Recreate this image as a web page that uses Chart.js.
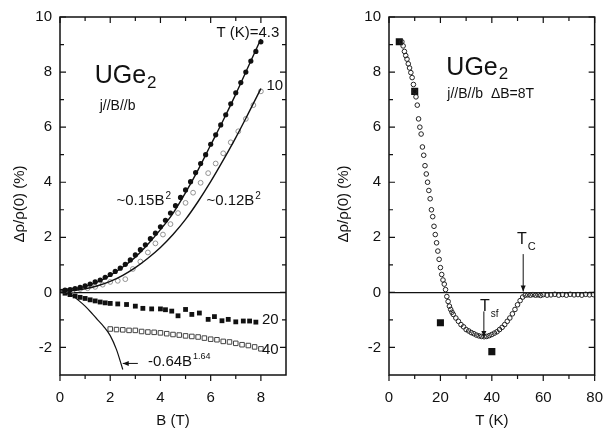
<!DOCTYPE html>
<html>
<head>
<meta charset="utf-8">
<script src="https://cdn.jsdelivr.net/npm/chart.js@4.4.1/dist/chart.umd.min.js"></script>
<style>
  html, body { margin: 0; padding: 0; background: #fff; }
  #wrap { position: relative; width: 609px; height: 434px; }
  .panel { position: absolute; top: 0; height: 434px; }
</style>
</head>
<body>
<div id="wrap">
  <div class="panel" style="left:0;width:300px"><canvas id="fieldChart"></canvas></div>
  <div class="panel" style="left:300px;width:309px"><canvas id="tempChart"></canvas></div>
</div>
<script>
// tick values
const yMajor = [-2, 0, 2, 4, 6, 8, 10];
const yMinor = [-1, 1, 3, 5, 7, 9];
const fieldMajor = [0, 2, 4, 6, 8];
const fieldMinor = [1, 3, 5, 7];
const tempMajor = [0, 20, 40, 60, 80];
const tempMinor = [10, 30, 50, 70];

// left panel: magnetoresistance vs B at several T
const fieldB43 = [0.2, 0.4, 0.6, 0.8, 1.0, 1.2, 1.4, 1.6, 1.8, 2.0, 2.2, 2.4, 2.6, 2.8, 3.0, 3.2, 3.4, 3.6, 3.8, 4.0,
                  4.2, 4.4, 4.6, 4.8, 5.0, 5.2, 5.4, 5.6, 5.8, 6.0, 6.2, 6.4, 6.6, 6.8, 7.0, 7.2, 7.4, 7.6, 7.8, 8.0];
const rho43 = [0.08, 0.1, 0.14, 0.18, 0.24, 0.3, 0.38, 0.45, 0.55, 0.65, 0.76, 0.88, 1.02, 1.18, 1.36, 1.55, 1.73, 1.95, 2.15, 2.38,
               2.62, 2.88, 3.15, 3.45, 3.72, 4.02, 4.35, 4.68, 5.0, 5.38, 5.72, 6.08, 6.45, 6.85, 7.25, 7.62, 8.0, 8.4, 8.75, 9.1];

const fieldB10 = [0.2, 0.5, 0.8, 1.1, 1.4, 1.7, 2.0, 2.3, 2.6, 2.9, 3.2, 3.5, 3.8, 4.1, 4.4, 4.7, 5.0, 5.3, 5.6, 5.9,
                  6.2, 6.5, 6.8, 7.1, 7.4, 7.7, 8.0];
const rho10 = [0.05, 0.08, 0.12, 0.15, 0.2, 0.28, 0.38, 0.42, 0.48, 0.85, 1.12, 1.45, 1.78, 2.1, 2.48, 2.88, 3.25, 3.62, 3.98, 4.33,
               4.68, 5.05, 5.45, 5.85, 6.3, 6.8, 7.3];

const fieldB20 = [0.2, 0.4, 0.6, 0.8, 1.0, 1.2, 1.4, 1.6, 1.8, 2.0, 2.3, 2.65, 3.0, 3.3, 3.65, 4.0, 4.2, 4.45, 4.7, 5.0,
                  5.25, 5.55, 5.9, 6.15, 6.45, 6.7, 7.0, 7.3, 7.55, 7.8];
const rho20 = [-0.03, -0.08, -0.13, -0.18, -0.22, -0.27, -0.31, -0.35, -0.38, -0.4, -0.42, -0.44, -0.5, -0.58, -0.6, -0.6, -0.63, -0.68, -0.85, -0.62,
               -0.8, -0.75, -0.98, -0.88, -1.03, -0.98, -1.07, -1.04, -1.04, -1.08];

const fieldB40 = [2.0, 2.25, 2.5, 2.75, 3.0, 3.25, 3.5, 3.75, 4.0, 4.25, 4.5, 4.75, 5.0, 5.25, 5.5, 5.75, 6.0, 6.25, 6.5, 6.75,
                  7.0, 7.25, 7.5, 7.75, 8.0];
const rho40 = [-1.33, -1.35, -1.36, -1.38, -1.38, -1.42, -1.44, -1.45, -1.47, -1.5, -1.53, -1.55, -1.58, -1.6, -1.62, -1.66, -1.7, -1.72, -1.78, -1.8,
               -1.85, -1.9, -1.93, -1.98, -2.05];

// fitted curves
const fitB = [0, 0.5, 1.0, 1.5, 2.0, 2.5, 3.0, 3.5, 4.0, 4.5, 5.0, 5.5, 6.0, 6.5, 7.0, 7.5, 8.0];
const fit015 = [0.1, 0.13, 0.22, 0.38, 0.62, 0.92, 1.28, 1.75, 2.28, 2.87, 3.62, 4.45, 5.35, 6.25, 7.2, 8.2, 9.2];
const fit012 = [0.05, 0.07, 0.13, 0.24, 0.4, 0.62, 0.9, 1.24, 1.63, 2.1, 2.65, 3.3, 4.02, 4.8, 5.62, 6.5, 7.4];
const powB = [0, 0.25, 0.5, 0.75, 1.0, 1.25, 1.5, 1.75, 2.0, 2.25, 2.5];
const pow064 = [0, -0.04, -0.12, -0.3, -0.5, -0.74, -1.0, -1.25, -1.57, -2.08, -2.8];

// right panel: delta rho at 8 T vs temperature
const tempT = [5.0, 5.5, 6.0, 6.5, 7.0, 7.5, 8.0, 8.5, 9.0, 9.5, 10.0, 10.5, 11.0, 11.5, 12.0, 12.5, 13.0, 13.5, 14.0, 14.5,
               15.0, 15.5, 16.0, 16.5, 17.0, 17.5, 18.0, 18.5, 19.0, 19.5, 20.0, 20.5, 21.0, 21.5, 22.0, 22.5, 23.0, 23.5, 24.0, 24.5,
               25, 26, 27, 28, 29, 30, 31, 32, 33, 34, 35, 36, 37, 38, 39, 40, 41, 42, 43, 44,
               45, 46, 47, 48, 49, 50, 51, 52, 53, 54, 55, 56, 57, 58, 59, 60, 61.5, 63, 64.5, 66,
               67.5, 69, 70.5, 72, 73.5, 75, 76.5, 78, 79.5];
const rhoT = [9.1, 8.95, 8.75, 8.6, 8.47, 8.3, 8.15, 7.98, 7.8, 7.55, 7.3, 7.1, 6.8, 6.3, 6.0, 5.75, 5.28, 4.98, 4.6, 4.3,
              4.0, 3.7, 3.4, 3.0, 2.75, 2.4, 2.1, 1.8, 1.5, 1.2, 0.9, 0.65, 0.45, 0.3, 0.1, -0.15, -0.33, -0.5, -0.62, -0.72,
              -0.8, -0.93, -1.05, -1.17, -1.25, -1.35, -1.4, -1.46, -1.5, -1.55, -1.58, -1.6, -1.61, -1.6, -1.57, -1.53, -1.48, -1.43, -1.35, -1.27,
              -1.17, -1.05, -0.93, -0.78, -0.62, -0.45, -0.3, -0.17, -0.1, -0.09, -0.1, -0.08, -0.1, -0.09, -0.11, -0.08, -0.1, -0.09, -0.07, -0.1,
              -0.08, -0.1, -0.07, -0.09, -0.08, -0.1, -0.07, -0.09, -0.08];
const sqT = [4, 10, 20, 40];
const sqRho = [9.1, 7.3, -1.1, -2.15];

const FONT = '"Liberation Sans", Arial, sans-serif';
const INK = '#111';
Chart.defaults.font.family = FONT;
Chart.defaults.color = INK;

const pts = (xs, ys) => xs.map((x, i) => ({ x: x, y: ys[i] }));

// frame, inward ticks, axis titles and annotations
const decor = {
    id: 'decor',
    afterDraw(chart, args, o) {
        const { ctx, chartArea: a, scales: { x, y } } = chart;
        ctx.save();
        ctx.strokeStyle = INK;
        ctx.fillStyle = INK;
        ctx.lineWidth = 1.5;
        ctx.strokeRect(a.left, a.top, a.right - a.left, a.bottom - a.top);

        ctx.lineWidth = 1.2;
        ctx.beginPath();
        const xt = (v, len) => {
            const px = x.getPixelForValue(v);
            ctx.moveTo(px, a.bottom + len); ctx.lineTo(px, a.bottom);
            ctx.moveTo(px, a.top); ctx.lineTo(px, a.top + len);
        };
        const yt = (v, len) => {
            const py = y.getPixelForValue(v);
            ctx.moveTo(a.left, py); ctx.lineTo(a.left + len, py);
            ctx.moveTo(a.right, py); ctx.lineTo(a.right - len, py);
        };
        o.xMajor.forEach(v => xt(v, 6));
        o.xMinor.forEach(v => xt(v, 4));
        yMajor.forEach(v => yt(v, 6));
        yMinor.forEach(v => yt(v, 4));
        ctx.stroke();

        // axis titles
        ctx.font = '15px ' + FONT;
        ctx.textAlign = 'center';
        ctx.textBaseline = 'middle';
        ctx.fillText(o.xTitle, (a.left + a.right) / 2, 421);
        ctx.save();
        ctx.translate(o.yTitleX, (a.top + a.bottom) / 2 + 8);
        ctx.rotate(-Math.PI / 2);
        ctx.fillText('Δρ/ρ(0) (%)', 0, 0);
        ctx.restore();

        // text notes
        ctx.textAlign = 'left';
        ctx.textBaseline = 'alphabetic';
        o.notes.forEach(n => {
            const px = x.getPixelForValue(n.x), py = y.getPixelForValue(n.y);
            ctx.font = (n.size || 15) + 'px ' + FONT;
            ctx.fillText(n.t, px, py);
            const w = ctx.measureText(n.t).width;
            if (n.sub) {
                ctx.font = n.subSize + 'px ' + FONT;
                ctx.fillText(n.sub, px + w + 1, py + n.subDy);
            }
            if (n.sup) {
                ctx.font = n.supSize + 'px ' + FONT;
                ctx.fillText(n.sup, px + w + 1, py - n.supDy);
            }
        });

        // arrows
        ctx.lineWidth = 1;
        o.arrows.forEach(ar => {
            const x0 = x.getPixelForValue(ar.from[0]), y0 = y.getPixelForValue(ar.from[1]);
            const x1 = x.getPixelForValue(ar.to[0]), y1 = y.getPixelForValue(ar.to[1]);
            const ang = Math.atan2(y1 - y0, x1 - x0);
            ctx.beginPath();
            ctx.moveTo(x0, y0); ctx.lineTo(x1, y1);
            ctx.stroke();
            ctx.beginPath();
            ctx.moveTo(x1, y1);
            ctx.lineTo(x1 - 6 * Math.cos(ang) + 2.5 * Math.sin(ang), y1 - 6 * Math.sin(ang) - 2.5 * Math.cos(ang));
            ctx.lineTo(x1 - 6 * Math.cos(ang) - 2.5 * Math.sin(ang), y1 - 6 * Math.sin(ang) + 2.5 * Math.cos(ang));
            ctx.closePath();
            ctx.fill();
        });
        ctx.restore();
    }
};

function scalesFor(xMin, xMax, xTicks, yWidth) {
    return {
        x: {
            type: 'linear', min: xMin, max: xMax,
            afterBuildTicks: s => { s.ticks = xTicks.map(v => ({ value: v })); },
            afterFit: s => { s.height = 59; },
            grid: { display: false },
            border: { display: false },
            ticks: { font: { size: 15 }, color: INK, padding: 6, maxRotation: 0 }
        },
        y: {
            type: 'linear', min: -3, max: 10,
            afterBuildTicks: s => { s.ticks = yMajor.map(v => ({ value: v })); },
            afterFit: s => { s.width = yWidth; },
            grid: {
                drawTicks: false,
                lineWidth: 1.3,
                color: c => (c.tick && c.tick.value === 0) ? INK : 'rgba(0,0,0,0)'
            },
            border: { display: false },
            ticks: { font: { size: 15 }, color: INK, padding: 8 }
        }
    };
}

const baseOpts = {
    responsive: true,
    maintainAspectRatio: false,
    animation: false,
    devicePixelRatio: 1,
    events: []
};

const fieldChart = new Chart(document.getElementById('fieldChart'), {
    type: 'scatter',
    data: {
        datasets: [
            { data: pts(fitB, fit015), showLine: true, borderColor: INK, borderWidth: 1.4, pointRadius: 0, cubicInterpolationMode: 'monotone' },
            { data: pts(fitB, fit012), showLine: true, borderColor: INK, borderWidth: 1.4, pointRadius: 0, cubicInterpolationMode: 'monotone' },
            { data: pts(powB, pow064), showLine: true, borderColor: INK, borderWidth: 1.2, pointRadius: 0, cubicInterpolationMode: 'monotone' },
            { data: pts(fieldB43, rho43), pointStyle: 'circle', pointRadius: 2.6, backgroundColor: INK, borderColor: INK, borderWidth: 0 },
            { data: pts(fieldB10, rho10), pointStyle: 'circle', pointRadius: 2.4, backgroundColor: 'rgba(0,0,0,0)', borderColor: '#888', borderWidth: 0.9 },
            { data: pts(fieldB20, rho20), pointStyle: 'rect', pointRadius: 3.4, backgroundColor: INK, borderColor: INK, borderWidth: 0 },
            { data: pts(fieldB40, rho40), pointStyle: 'rect', pointRadius: 3.2, backgroundColor: '#fff', borderColor: '#444', borderWidth: 1 }
        ]
    },
    options: Object.assign({}, baseOpts, {
        layout: { padding: { top: 12, right: 14, left: 0, bottom: 0 } },
        scales: scalesFor(0, 9, fieldMajor, 60),
        plugins: {
            legend: { display: false },
            tooltip: { enabled: false },
            decor: {
                xMajor: fieldMajor, xMinor: fieldMinor, xTitle: 'B (T)', yTitleX: 20,
                notes: [
                    { t: 'UGe', x: 1.38, y: 7.62, size: 25, sub: '2', subSize: 17, subDy: 5 },
                    { t: 'j//B//b', x: 1.58, y: 6.63, size: 14 },
                    { t: 'T (K)=4.3', x: 6.23, y: 9.26, size: 15 },
                    { t: '10', x: 8.22, y: 7.34, size: 15 },
                    { t: '~0.15B', x: 2.25, y: 3.17, size: 15, sup: '2', supSize: 10, supDy: 6 },
                    { t: '~0.12B', x: 5.83, y: 3.17, size: 15, sup: '2', supSize: 10, supDy: 6 },
                    { t: '20', x: 8.04, y: -1.15, size: 15 },
                    { t: '40', x: 8.04, y: -2.22, size: 15 },
                    { t: '-0.64B', x: 3.5, y: -2.69, size: 15, sup: '1.64', supSize: 9, supDy: 7 }
                ],
                arrows: [ { from: [3.1, -2.58], to: [2.5, -2.58] } ]
            }
        }
    }),
    plugins: [decor]
});

const tempChart = new Chart(document.getElementById('tempChart'), {
    type: 'scatter',
    data: {
        datasets: [
            { data: pts(tempT, rhoT), pointStyle: 'circle', pointRadius: 2.3, backgroundColor: 'rgba(0,0,0,0)', borderColor: '#222', borderWidth: 1 },
            { data: pts(sqT, sqRho), pointStyle: 'rect', pointRadius: 5, backgroundColor: INK, borderColor: INK, borderWidth: 0 }
        ]
    },
    options: Object.assign({}, baseOpts, {
        layout: { padding: { top: 12, right: 8, left: 0, bottom: 0 } },
        scales: scalesFor(0, 80, tempMajor, 89),
        plugins: {
            legend: { display: false },
            tooltip: { enabled: false },
            decor: {
                xMajor: tempMajor, xMinor: tempMinor, xTitle: 'T (K)', yTitleX: 44,
                notes: [
                    { t: 'UGe', x: 22.3, y: 7.91, size: 25, sub: '2', subSize: 17, subDy: 4 },
                    { t: 'j//B//b  ΔB=8T', x: 22.7, y: 7.07, size: 14 },
                    { t: 'T', x: 49.8, y: 1.76, size: 16, sub: 'C', subSize: 11, subDy: 6 },
                    { t: 'T', x: 35.4, y: -0.69, size: 16, sub: 'sf', subSize: 10, subDy: 6 }
                ],
                arrows: [
                    { from: [52.2, 1.39], to: [52.2, 0.03] },
                    { from: [36.9, -0.69], to: [36.9, -1.62] }
                ]
            }
        }
    }),
    plugins: [decor]
});
</script>
</body>
</html>
